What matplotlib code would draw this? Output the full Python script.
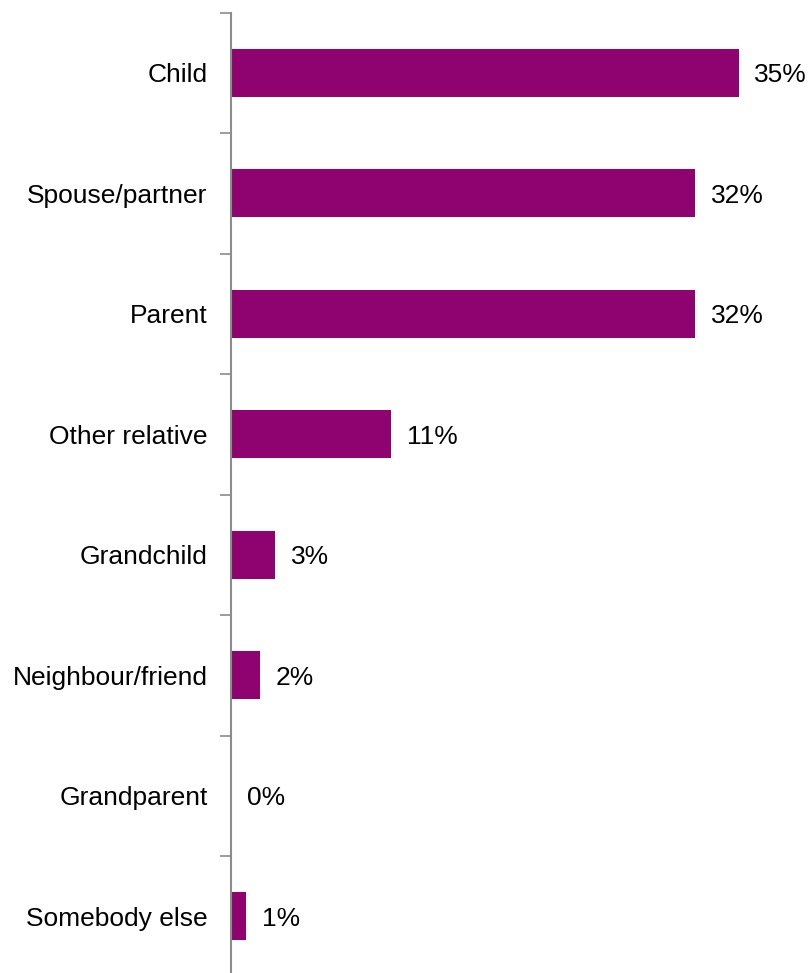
import matplotlib.pyplot as plt

# who provides the care, share of respondents (%)
categories = [
    "Child",
    "Spouse/partner",
    "Parent",
    "Other relative",
    "Grandchild",
    "Neighbour/friend",
    "Grandparent",
    "Somebody else",
]
shares = [35, 32, 32, 11, 3, 2, 0, 1]

plt.rcParams["font.family"] = ["Liberation Sans", "DejaVu Sans"]

fig = plt.figure(figsize=(8.11, 9.73), dpi=100)
ax = fig.add_axes([0.285, -0.0036, 0.715, 0.9906])

n = len(categories)
pos = list(range(n))
ax.barh(pos, shares, height=0.4, color="#8E036F")

for p, v in zip(pos, shares):
    ax.text(v + 1.1, p + 0.02, f"{v}%", va="center", ha="left", fontsize=19)

ax.set_ylim(n - 0.5, -0.5)
ax.set_xlim(0, 40)

# ticks sit between the categories, labels centred on the bars
ax.set_yticks([p - 0.5 for p in pos] + [n - 0.5])
ax.set_yticklabels([])
ax.set_yticks(pos, minor=True)
ax.set_yticklabels(categories, minor=True, fontsize=19)
ax.tick_params(axis="y", which="major", length=8, width=1.2, color="#8C8C8C", direction="out")
ax.tick_params(axis="y", which="minor", length=0, pad=17)

ax.set_xticks([])
for side in ["top", "right", "bottom"]:
    ax.spines[side].set_visible(False)
ax.spines["left"].set_color("#8C8C8C")
ax.spines["left"].set_linewidth(1.5)

fig.savefig("out.png", dpi=100)
